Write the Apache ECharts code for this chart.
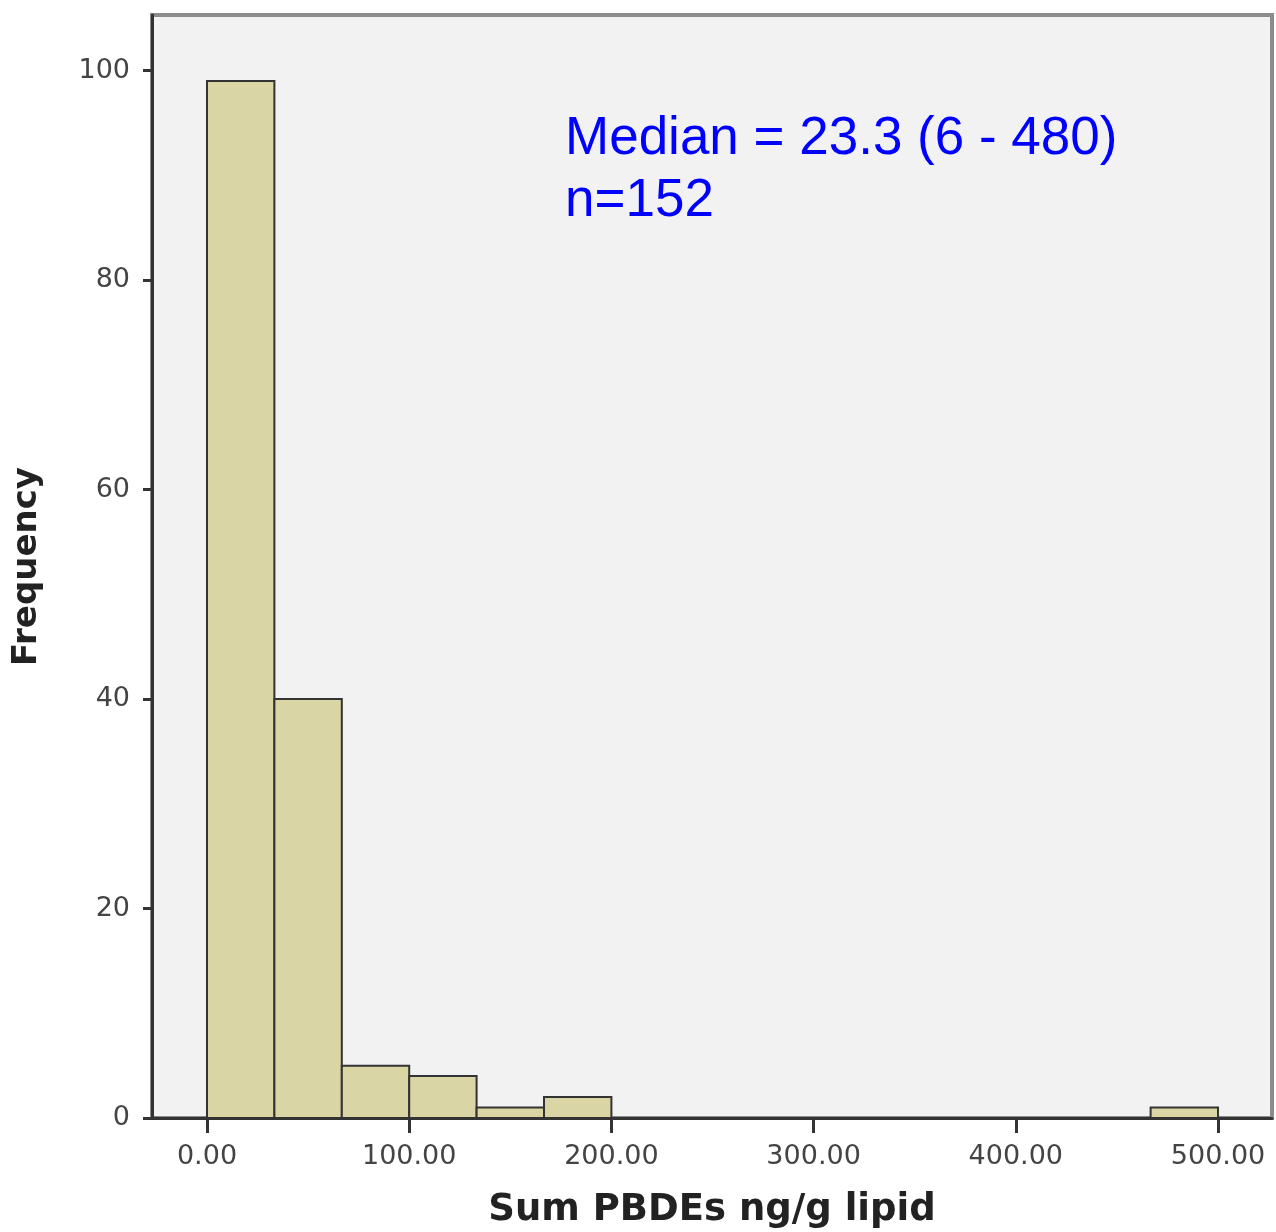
<!DOCTYPE html>
<html>
<head>
<meta charset="utf-8">
<script src="https://cdn.jsdelivr.net/npm/echarts@6/dist/echarts.min.js"></script>
<style>
  html, body { margin: 0; padding: 0; background: #fff; }
  #chart { width: 1276px; height: 1232px; }
</style>
</head>
<body>
<div id="chart"></div>
<script>
// histogram bins (ng/g lipid) and counts
const binEdges = [0, 33.33, 66.67, 100, 133.33, 166.67, 200, 233.33, 266.67, 300,
  333.33, 366.67, 400, 433.33, 466.67, 500];
const counts = [99, 40, 5, 4, 1, 2, 0, 0, 0, 0, 0, 0, 0, 0, 1];
const xTicks = [0, 100, 200, 300, 400, 500];
const yTicks = [0, 20, 40, 60, 80, 100];
const noteLines = ['Median = 23.3 (6 - 480)', 'n=152'];

const barData = [];
counts.forEach((c, i) => {
  if (c > 0) barData.push([binEdges[i], binEdges[i + 1], c]);
});

const chart = echarts.init(document.getElementById('chart'));

const labelFont = {
  fontFamily: 'DejaVu Sans',
  fontSize: 27,
  color: '#444',
};

chart.setOption({
  animation: false,
  grid: {
    left: 152,
    top: 15,
    right: 4,
    bottom: 114,
    outerBoundsMode: 'none',
    show: true,
    backgroundColor: '#f2f2f2',
    borderColor: '#8c8c8c',
    borderWidth: 4,
  },
  xAxis: {
    type: 'value',
    min: -27.2,
    max: 526.7,
    name: 'Sum PBDEs ng/g lipid',
    nameLocation: 'middle',
    nameGap: 74,
    nameTextStyle: {
      fontFamily: 'DejaVu Sans',
      fontWeight: 'bold',
      fontSize: 37,
      color: '#222',
    },
    axisLine: { onZero: false, lineStyle: { color: '#333', width: 3 } },
    axisTick: {
      customValues: xTicks,
      length: 15,
      lineStyle: { color: '#333', width: 3 },
    },
    axisLabel: Object.assign({
      customValues: xTicks,
      margin: 25,
      formatter: v => v.toFixed(2),
    }, labelFont),
    splitLine: { show: false },
  },
  yAxis: {
    type: 'value',
    min: 0,
    max: 105.3,
    name: 'Frequency',
    nameLocation: 'middle',
    nameGap: 108,
    nameTextStyle: {
      fontFamily: 'DejaVu Sans',
      fontWeight: 'bold',
      fontSize: 34,
      color: '#222',
    },
    axisLine: { show: true, onZero: false, lineStyle: { color: '#333', width: 3 } },
    axisTick: {
      show: true,
      customValues: yTicks,
      length: 9,
      lineStyle: { color: '#333', width: 3 },
    },
    axisLabel: Object.assign({
      customValues: yTicks,
      margin: 22,
    }, labelFont),
    splitLine: { show: false },
  },
  series: [{
    type: 'custom',
    data: barData,
    encode: { x: [0, 1], y: 2 },
    renderItem(params, api) {
      const top = api.coord([api.value(0), api.value(2)]);
      const bottom = api.coord([api.value(1), 0]);
      return {
        type: 'rect',
        shape: {
          x: top[0],
          y: top[1],
          width: bottom[0] - top[0],
          height: bottom[1] - top[1],
        },
        style: {
          fill: '#d9d5a5',
          stroke: '#333',
          lineWidth: 2,
        },
      };
    },
  }],
  graphic: noteLines.map((t, i) => ({
    type: 'text',
    left: 565,
    top: 113 + i * 62,
    style: {
      text: t,
      fontFamily: 'Liberation Sans',
      fontSize: 53,
      fill: '#0000ff',
    },
  })),
});
</script>
</body>
</html>
